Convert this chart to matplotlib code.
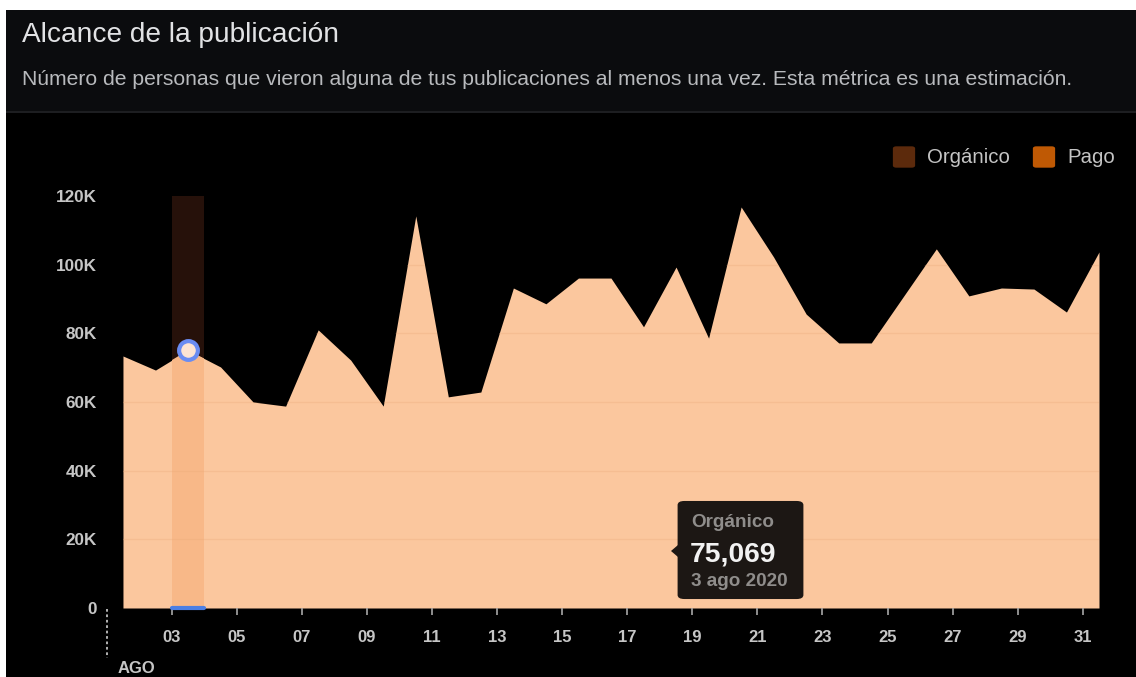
import matplotlib
matplotlib.use('Agg')
import matplotlib.pyplot as plt
import matplotlib.transforms as mtransforms
from matplotlib.patches import Rectangle, FancyBboxPatch, Polygon
import numpy as np

plt.rcParams['font.family'] = ['Liberation Sans', 'DejaVu Sans']

# alcance orgánico diario, agosto 2020
days = np.arange(1, 32)
organico = [73400, 69300, 75069, 70200, 60000, 58800, 81000, 72200, 58800, 114200,
            61500, 62900, 93200, 88600, 96100, 96100, 81900, 99300, 78600, 116800,
            102200, 85600, 77200, 77200, 90900, 104600, 90900, 93200, 92900, 86200,
            103700]
tick_days = list(range(3, 32, 2))
tick_labels = ['%02d' % d for d in tick_days]
y_ticks = [0, 20000, 40000, 60000, 80000, 100000, 120000]
y_labels = ['0', '20K', '40K', '60K', '80K', '100K', '120K']
sel_day = 3
sel_value = organico[sel_day - 1]

W, H = 1136, 677
fig = plt.figure(figsize=(W / 100, H / 100), dpi=100, facecolor='white')


def fx(px):
    return px / W


def fy(py):
    return 1 - py / H


# panel background, header and divider
fig.patches.append(Rectangle((fx(6), 0), 1 - fx(6), fy(10), transform=fig.transFigure,
                             facecolor='black', edgecolor='none', zorder=-5))
fig.patches.append(Rectangle((fx(6), fy(111)), 1 - fx(6), fy(10) - fy(111),
                             transform=fig.transFigure, facecolor='#0b0c0e',
                             edgecolor='none', zorder=-4))
fig.patches.append(Rectangle((fx(6), fy(113)), 1 - fx(6), fy(111) - fy(113),
                             transform=fig.transFigure, facecolor='#1d1e21',
                             edgecolor='none', zorder=-4))

fig.text(fx(22), fy(42), 'Alcance de la publicación', fontsize=20.2, color='#e2e3e5',
         va='baseline', ha='left')
fig.text(fx(22), fy(85), 'Número de personas que vieron alguna de tus publicaciones al menos '
         'una vez. Esta métrica es una estimación.', fontsize=15.2, color='#b8babd',
         va='baseline', ha='left')

ax = fig.add_axes([fx(106.7), fy(608), fx(1099) - fx(106.7), fy(196) - fy(608)])
ax.set_facecolor('black')
ax.set_xlim(0.5, 31)
ax.set_ylim(0, 120000)
for s in ax.spines.values():
    s.set_visible(False)

# column behind the selected day
ax.axvspan(sel_day - 0.5, sel_day + 0.5, color='#26110a', zorder=0, lw=0)

area = ax.fill_between(days, organico, 0, color='#fbc79e', lw=0, zorder=1)
area_path = area.get_paths()[0]
area_tr = area.get_transform()

hl = ax.axvspan(sel_day - 0.5, sel_day + 0.5, color='#f8b888', zorder=2, lw=0)
hl.set_clip_path(area_path, area_tr)

for yv in y_ticks[1:]:
    gl = ax.axhline(yv, color='#eaa877', lw=1, alpha=0.3, zorder=3)
    gl.set_clip_path(area_path, area_tr)

ax.plot(sel_day, sel_value, 'o', ms=13.5, mfc='#fde4d3', mec='#6a8cf2', mew=3, zorder=6)
ax.plot([sel_day - 0.5, sel_day + 0.5], [0, 0], color='#4c7fe4', lw=3,
        solid_capstyle='round', clip_on=False, zorder=6)

ax.set_xticks([d - 0.5 for d in tick_days])
ax.set_xticklabels(tick_labels)
ax.set_yticks(y_ticks)
ax.set_yticklabels(y_labels)
ax.tick_params(axis='x', length=5, width=1.2, color='#a8a8a8', pad=11,
               labelsize=12, labelcolor='#c6c6c6')
ax.tick_params(axis='y', length=0, pad=7, labelsize=12.3, labelcolor='#c6c6c6')
for lab in ax.get_xticklabels() + ax.get_yticklabels():
    lab.set_fontweight('bold')

# month marker at the first day
trans = mtransforms.blended_transform_factory(ax.transData, ax.transAxes)
ax.plot([0.5, 0.5], [-0.002, -0.122], transform=trans, color='#c0c0c0', lw=1.3,
        ls=(0, (1.5, 1.5)), clip_on=False)
ax.text(0.5, -0.158, 'AGO', transform=trans + mtransforms.ScaledTranslation(11 / 100, 0, fig.dpi_scale_trans),
        fontsize=12, fontweight='bold', color='#c6c6c6', ha='left', va='baseline')

# legend
for x0, col, name in [(893, '#5c2a0c', 'Orgánico'), (1033, '#bf5904', 'Pago')]:
    fig.patches.append(FancyBboxPatch((fx(x0 + 1), fy(167)), fx(20), fy(147) - fy(167),
                                      boxstyle='round,pad=0.001,rounding_size=0.003',
                                      transform=fig.transFigure, facecolor=col,
                                      edgecolor='none', zorder=5))
    fig.text(fx(x0 + 34), fy(163), name, fontsize=14.7, color='#c4c4c4',
             ha='left', va='baseline')

# tooltip
fig.patches.append(FancyBboxPatch((fx(681), fy(597)), fx(119), fy(503) - fy(597),
                                  boxstyle='round,pad=0.003,rounding_size=0.006',
                                  transform=fig.transFigure, facecolor='#1c1714',
                                  edgecolor='none', zorder=10))
fig.patches.append(Polygon([(fx(678), fy(545)), (fx(671), fy(551)), (fx(678), fy(557))],
                           closed=True, transform=fig.transFigure, facecolor='#1c1714',
                           edgecolor='none', zorder=10))
fig.text(fx(691), fy(527), 'Orgánico', fontsize=13.6, fontweight='bold', color='#8f8d8b',
         ha='left', va='baseline', zorder=11)
fig.text(fx(690), fy(562), '{:,}'.format(sel_value), fontsize=20.3, fontweight='bold',
         color='#f2f2f2', ha='left', va='baseline', zorder=11)
fig.text(fx(691), fy(586), '3 ago 2020', fontsize=13.6, fontweight='bold', color='#8f8d8b',
         ha='left', va='baseline', zorder=11)

fig.savefig('out.png', dpi=100, facecolor=fig.get_facecolor())
